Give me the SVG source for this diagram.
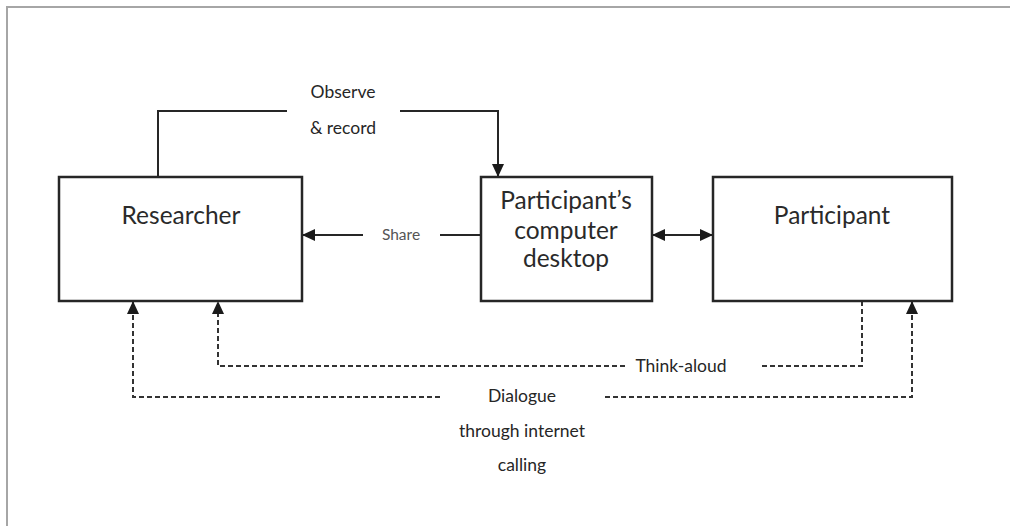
<svg xmlns="http://www.w3.org/2000/svg" width="1010" height="526" viewBox="0 0 1010 526">
  <style>
    .box { fill: #ffffff; stroke: #262626; stroke-width: 2.5; }
    .line { fill: none; stroke: #262626; stroke-width: 2; }
    .dash { fill: none; stroke: #333333; stroke-width: 2; stroke-dasharray: 5 3; }
    .node-label { font-family: Lato, "Liberation Sans", sans-serif; font-size: 24.5px; fill: #2a2a2a; text-anchor: middle; }
    .edge-label { font-family: Lato, "Liberation Sans", sans-serif; font-size: 17.5px; fill: #262626; text-anchor: middle; }
    .share { font-family: Lato, "Liberation Sans", sans-serif; font-size: 15.5px; fill: #555555; text-anchor: middle; }
  </style>
  <defs>
    <marker id="head" markerUnits="userSpaceOnUse" markerWidth="14" markerHeight="12" refX="13" refY="6" orient="auto">
      <path d="M0,0 L13,6 L0,12 Z" fill="#1a1a1a"/>
    </marker>
    <marker id="head-start" markerUnits="userSpaceOnUse" markerWidth="14" markerHeight="12" refX="1" refY="6" orient="auto">
      <path d="M14,0 L1,6 L14,12 Z" fill="#1a1a1a"/>
    </marker>
  </defs>

  <rect width="1010" height="526" fill="#ffffff"/>
  <!-- outer frame: only the top and left edges fall inside the canvas -->
  <path d="M7 526 V7 H1010" fill="none" stroke="#a6a6a6" stroke-width="2"/>

  <g id="connectors">
    <!-- Observe & record -->
    <path class="line" d="M158 177 V111 H287"/>
    <path class="line" d="M400 111 H498 V177" marker-end="url(#head)"/>
    <!-- Share -->
    <path class="line" d="M481 235 H440"/>
    <path class="line" d="M363 235 H302" marker-end="url(#head)"/>
    <!-- desktop to participant, both ways -->
    <path class="line" d="M652 235 H713" marker-start="url(#head-start)" marker-end="url(#head)"/>
    <!-- Think-aloud -->
    <path class="dash" d="M862 301 V366 H760"/>
    <path class="dash" d="M625 366 H218 V301" marker-end="url(#head)"/>
    <!-- Dialogue through internet calling -->
    <path class="dash" d="M440 397 H133 V301" marker-end="url(#head)"/>
    <path class="dash" d="M605 397 H912 V301" marker-end="url(#head)"/>
  </g>

  <g id="researcher">
    <rect class="box" x="59" y="177" width="243" height="124"/>
    <text class="node-label" x="181" y="224">Researcher</text>
  </g>

  <g id="desktop">
    <rect class="box" x="481" y="177" width="171" height="124"/>
    <text class="node-label" x="566" y="209">Participant’s</text>
    <text class="node-label" x="566" y="239">computer</text>
    <text class="node-label" x="566" y="267">desktop</text>
  </g>

  <g id="participant">
    <rect class="box" x="713" y="177" width="239" height="124"/>
    <text class="node-label" x="832" y="224">Participant</text>
  </g>

  <g id="labels">
    <text class="edge-label" x="343" y="98">Observe</text>
    <text class="edge-label" x="343" y="134">&amp; record</text>
    <text class="share" x="401" y="240">Share</text>
    <text class="edge-label" x="681" y="372">Think-aloud</text>
    <text class="edge-label" x="522" y="402">Dialogue</text>
    <text class="edge-label" x="522" y="437">through internet</text>
    <text class="edge-label" x="522" y="471">calling</text>
  </g>
</svg>
